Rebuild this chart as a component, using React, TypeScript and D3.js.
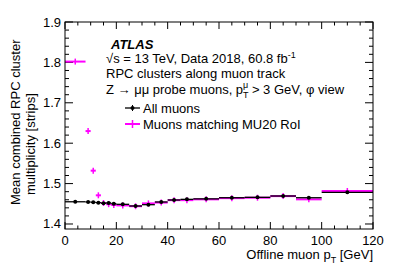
import React from 'react';
import * as d3 from 'd3';

// bin edges in GeV
const binLow = [0, 8, 10, 12, 14, 16, 18, 20, 25, 30, 35, 40, 45, 50, 60, 70, 80, 90, 100];
const binHigh = [8, 10, 12, 14, 16, 18, 20, 25, 30, 35, 40, 45, 50, 60, 70, 80, 90, 100, 120];

// mean multiplicity, all muons
const allMuons = [1.455, 1.4545, 1.4537, 1.4528, 1.4515, 1.4522, 1.4503, 1.4487, 1.4446, 1.4478, 1.4545, 1.4594, 1.461, 1.4622, 1.465, 1.466, 1.4693, 1.465, 1.4785];
// mean multiplicity, muons matching MU20 RoI
const mu20Muons = [1.802, 1.630, 1.532, 1.471, 1.452, 1.449, 1.447, 1.446, 1.444, 1.451, 1.453, 1.459, 1.459, 1.461, 1.464, 1.465, 1.469, 1.461, 1.4817];

const xTicks = [0, 20, 40, 60, 80, 100, 120];
const yTicks = [1.4, 1.5, 1.6, 1.7, 1.8, 1.9];

const W = 407;
const H = 275;
const left = 65, right = 373, top = 22, bottom = 229;
const font = '"Liberation Sans", Arial, Helvetica, sans-serif';
const MAG = '#ff00ff';

const App: React.FC = () => {
  const x = d3.scaleLinear().domain([0, 120]).range([left, right]);
  const y = d3.scaleLinear().domain([1.3876, 1.9]).range([bottom, top]);

  const xMinor = d3.range(0, 120.01, 5);
  const yMinor = d3.range(1.4, 1.9001, 0.02);

  return (
    <svg width={W} height={H} style={{ position: 'absolute', left: 0, top: 0, background: '#fff' }} fontFamily={font}>
      {/* x ticks (bottom + top) */}
      {xMinor.map(v => {
        const major = Math.abs(v % 20) < 1e-6;
        const len = major ? 7 : 3.5;
        return (
          <g key={'xt' + v} stroke="#000" strokeWidth={1}>
            <line x1={x(v)} x2={x(v)} y1={bottom} y2={bottom - len} />
            <line x1={x(v)} x2={x(v)} y1={top} y2={top + len} />
          </g>
        );
      })}
      {yMinor.map((v, i) => {
        const major = i % 5 === 0;
        const len = major ? 8 : 4;
        return (
          <g key={'yt' + i} stroke="#000" strokeWidth={1}>
            <line x1={left} x2={left + len} y1={y(v)} y2={y(v)} />
            <line x1={right} x2={right - len} y1={y(v)} y2={y(v)} />
          </g>
        );
      })}
      {xTicks.map(v => (
        <text key={'xl' + v} x={x(v)} y={245} fontSize={13} textAnchor="middle">{v}</text>
      ))}
      {yTicks.map(v => (
        <text key={'yl' + v} x={left - 4} y={y(v) + 4.5} fontSize={13} textAnchor="end">{v.toFixed(1)}</text>
      ))}

      {/* magenta series: wide line, error bars */}
      {mu20Muons.map((v, i) => (
        <g key={'m' + i} stroke={MAG}>
          <line x1={x(binLow[i])} x2={x(binHigh[i])} y1={y(v)} y2={y(v)} strokeWidth={2} />
          <line x1={x((binLow[i] + binHigh[i]) / 2)} x2={x((binLow[i] + binHigh[i]) / 2)} y1={y(v) - 3} y2={y(v) + 3} strokeWidth={1.5} />
        </g>
      ))}
      {/* black series */}
      {allMuons.map((v, i) => (
        <g key={'b' + i}>
          <line x1={x(binLow[i])} x2={x(binHigh[i])} y1={y(v)} y2={y(v)} stroke="#000" strokeWidth={1.3} />
          <circle cx={x((binLow[i] + binHigh[i]) / 2)} cy={y(v)} r={2} fill="#000" />
        </g>
      ))}

      {/* frame */}
      <rect x={left} y={top} width={right - left} height={bottom - top} fill="none" stroke="#000" strokeWidth={1} />

      {/* labels */}
      <text x={111} y={49} fontSize={13} fontWeight="bold" fontStyle="italic">ATLAS</text>
      <text x={106} y={63} fontSize={13}>
        √s = 13 TeV, Data 2018, 60.8 fb<tspan fontSize={9} dy={-5}>-1</tspan>
      </text>
      <text x={106} y={78} fontSize={13}>RPC clusters along muon track</text>
      <text x={106} y={93.5} fontSize={13}>
        Z → μμ probe muons, p<tspan fontSize={9} dy={4}>T</tspan>
        <tspan fontSize={9} dx={-5.5} dy={-10}>μ</tspan>
        <tspan dy={6}> &gt; 3 GeV, φ view</tspan>
      </text>

      {/* legend */}
      <g>
        <line x1={125} x2={140} y1={108} y2={108} stroke="#000" strokeWidth={1.3} />
        <line x1={132.5} x2={132.5} y1={105} y2={111} stroke="#000" strokeWidth={1} />
        <circle cx={132.5} cy={108} r={2} fill="#000" />
        <text x={143} y={112.5} fontSize={13}>All muons</text>
        <line x1={125} x2={140} y1={124} y2={124} stroke={MAG} strokeWidth={2} />
        <line x1={132.5} x2={132.5} y1={120} y2={128} stroke={MAG} strokeWidth={1.5} />
        <text x={143} y={128.5} fontSize={13}>Muons matching MU20 RoI</text>
      </g>

      <text x={right} y={259} fontSize={13} textAnchor="end">
        Offline muon p<tspan fontSize={9} dy={4}>T</tspan><tspan dy={-4}> [GeV]</tspan>
      </text>
      <text transform="translate(20,205) rotate(-90)" fontSize={13}>Mean combined RPC cluster</text>
      <text transform="translate(35,195) rotate(-90)" fontSize={13}>multiplicity [strips]</text>
    </svg>
  );
};

export default App;
